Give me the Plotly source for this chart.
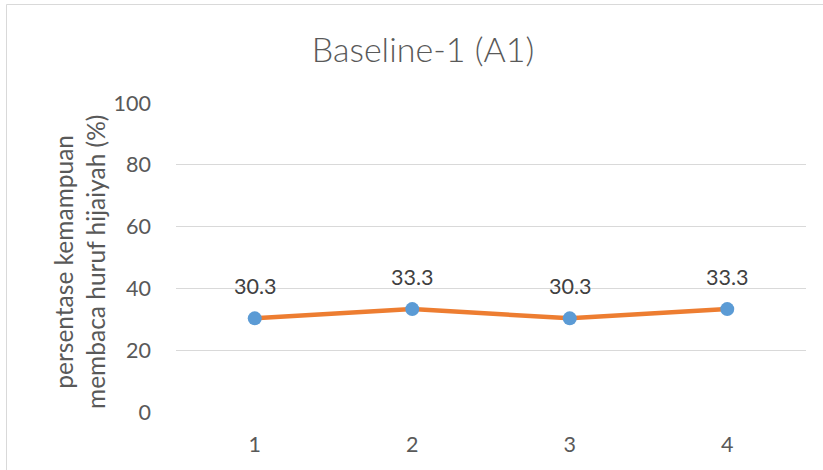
import plotly.graph_objects as go

categories = ["1", "2", "3", "4"]
values = [30.3, 33.3, 30.3, 33.3]
y_ticks = [0, 20, 40, 60, 80, 100]
title_text = "Baseline-1 (A1)"
y_title = "persentase kemampuan<br>membaca huruf hijaiyah (%)"

FONT = "Lato, Calibri, sans-serif"
GREY = "#595959"

W, H = 823, 470
ml, mr, mt, mb = 176, 17, 103, 58
pw, ph = W - ml - mr, H - mt - mb

def px_x(p):
    return (p - ml) / pw

def px_y(p):
    return (H - mb - p) / ph

fig = go.Figure()
fig.add_trace(go.Scatter(
    x=categories, y=values, mode="lines+markers",
    line=dict(color="#ED7D31", width=4.5),
    marker=dict(color="#5B9BD5", size=14),
    hoverinfo="skip", showlegend=False,
))

for i, v in enumerate(values):
    fig.add_annotation(x=i, y=v, text=f"{v}", showarrow=False, yshift=32,
                       font=dict(family=FONT, size=21.5, color="#404040"))

fig.add_annotation(xref="paper", yref="paper", x=px_x(79), y=px_y(262),
                   xanchor="center", yanchor="middle",
                   text=y_title, textangle=-90, showarrow=False,
                   font=dict(family=FONT, size=24.5, color=GREY),
                   align="center")

fig.add_shape(type="rect", xref="paper", yref="paper",
              x0=px_x(6.5), x1=px_x(835), y0=px_y(480), y1=px_y(4.5),
              line=dict(color="#D9D9D9", width=1), fillcolor="rgba(0,0,0,0)",
              layer="below")

fig.update_layout(
    width=W, height=H,
    margin=dict(l=ml, r=mr, t=mt, b=mb, autoexpand=False),
    paper_bgcolor="white", plot_bgcolor="white",
    title=dict(text=title_text, x=px_x(423), xanchor="center",
               xref="paper", y=(H - 50) / H, yanchor="middle",
               font=dict(family=FONT, size=34, color=GREY, weight=300)),
    xaxis=dict(type="category", range=[-0.5, 3.5], showgrid=False, zeroline=False,
               showline=False, ticks="", tickfont=dict(family=FONT, size=21.5, color=GREY),
               ticklabelstandoff=17),
    yaxis=dict(range=[0, 100], tickvals=y_ticks, showgrid=True,
               gridcolor="#D9D9D9", gridwidth=1, zeroline=False, showline=False,
               ticks="", tickfont=dict(family=FONT, size=21.5, color=GREY),
               ticklabelstandoff=24),
)

fig.write_html("out.html", config={"displayModeBar": False},
               post_script="document.body.style.margin='0';")
